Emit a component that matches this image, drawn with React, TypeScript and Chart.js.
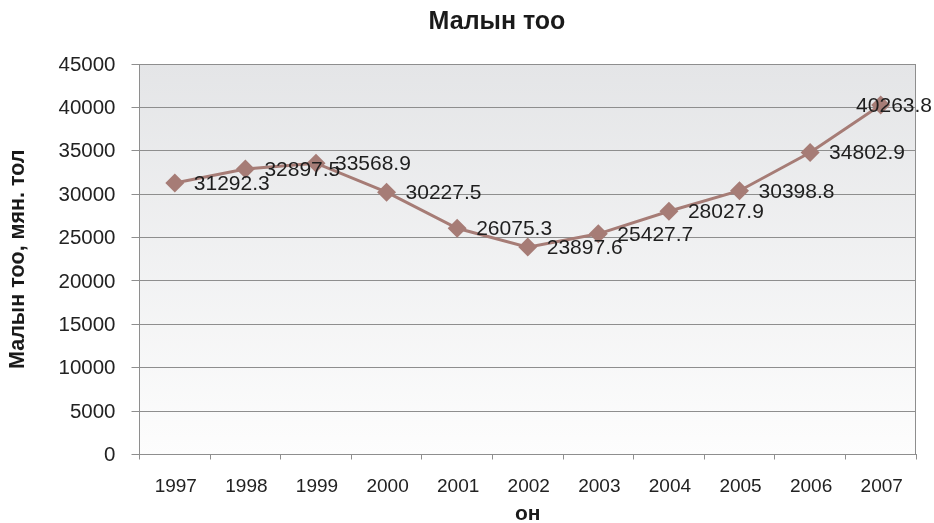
import { useEffect, useRef } from "react";
import { Chart, registerables } from "chart.js";

Chart.register(...registerables);

const chartTitle = "Малын тоо";
const xAxisTitle = "он";
const yAxisTitle = "Малын тоо, мян. тол";
const years = ["1997", "1998", "1999", "2000", "2001", "2002", "2003", "2004", "2005", "2006", "2007"];
const livestock = [31292.3, 32897.5, 33568.9, 30227.5, 26075.3, 23897.6, 25427.7, 28027.9, 30398.8, 34802.9, 40263.8];
const valueLabels = ["31292.3", "32897.5", "33568.9", "30227.5", "26075.3", "23897.6", "25427.7", "28027.9", "30398.8", "34802.9", "40263.8"];
const yMin = 0;
const yMax = 45000;
const yStep = 5000;

const FONT = "'Liberation Sans', Arial, Helvetica, sans-serif";
const LINE_COLOR = "#A67C76";
const GRID_COLOR = "#8E8E8E";

const plotBg = {
  id: "plotBg",
  beforeDraw(chart: any) {
    const { ctx, chartArea } = chart;
    const { left, top, right, bottom } = chartArea;
    ctx.save();
    const g = ctx.createLinearGradient(0, top, 0, bottom);
    g.addColorStop(0, "#E4E5E7");
    g.addColorStop(1, "#FDFDFD");
    ctx.fillStyle = g;
    ctx.fillRect(left, top, right - left, bottom - top);
    ctx.restore();
  },
  beforeDatasetsDraw(chart: any) {
    const { ctx, chartArea } = chart;
    const { top, right, bottom } = chartArea;
    ctx.save();
    ctx.strokeStyle = GRID_COLOR;
    ctx.lineWidth = 1;
    ctx.beginPath();
    ctx.moveTo(Math.round(right) - 0.5, top);
    ctx.lineTo(Math.round(right) - 0.5, bottom);
    ctx.stroke();
    ctx.restore();
  },
};

const pointLabels = {
  id: "pointLabels",
  afterDatasetsDraw(chart: any) {
    const { ctx } = chart;
    const meta = chart.getDatasetMeta(0);
    ctx.save();
    ctx.font = `21px ${FONT}`;
    ctx.fillStyle = "#1E1E1E";
    ctx.textAlign = "left";
    ctx.textBaseline = "middle";
    meta.data.forEach((pt: any, i: number) => {
      const text = valueLabels[i];
      const w = ctx.measureText(text).width;
      let x = pt.x + 19;
      if (x + w > chart.width - 2) x = chart.width - 2 - w;
      ctx.fillText(text, x, pt.y + 1);
    });
    ctx.restore();
  },
};

const titlePlugin = {
  id: "customTitle",
  afterDraw(chart: any) {
    const { ctx } = chart;
    ctx.save();
    ctx.font = `bold 25px ${FONT}`;
    ctx.fillStyle = "#1A1A1A";
    ctx.textAlign = "center";
    ctx.textBaseline = "middle";
    ctx.fillText(chartTitle, 497, 22);
    ctx.restore();
  },
};

export default function App() {
  const ref = useRef<HTMLCanvasElement | null>(null);

  useEffect(() => {
    document.body.style.margin = "0";
    if (!ref.current) return;
    const chart = new Chart(ref.current, {
      type: "line",
      data: {
        labels: years,
        datasets: [
          {
            data: livestock,
            borderColor: LINE_COLOR,
            backgroundColor: LINE_COLOR,
            borderWidth: 3,
            pointStyle: "rectRot",
            pointRadius: 9.5,
            pointBorderWidth: 0,
            pointBackgroundColor: LINE_COLOR,
            pointBorderColor: LINE_COLOR,
            tension: 0,
          },
        ],
      },
      options: {
        responsive: false,
        animation: false,
        events: [],
        layout: { padding: { left: 0, right: 18, top: 64, bottom: 0 } },
        plugins: {
          legend: { display: false },
          tooltip: { enabled: false },
          title: { display: false },
        },
        scales: {
          x: {
            type: "category",
            offset: true,
            grid: {
              offset: true,
              drawOnChartArea: false,
              drawTicks: true,
              tickLength: 5,
              color: GRID_COLOR,
            },
            border: { color: GRID_COLOR, width: 1 },
            ticks: {
              color: "#222",
              font: { family: FONT, size: 19 },
              padding: 16,
              labelOffset: 1,
              maxRotation: 0,
              autoSkip: false,
            },
            title: {
              display: true,
              text: xAxisTitle,
              color: "#1A1A1A",
              font: { family: FONT, size: 21, weight: "bold" },
              padding: { top: 0, bottom: -3.5 },
            },
            afterFit(scale: any) {
              scale.height = 68.5;
              scale.paddingLeft = 0;
              scale.paddingRight = 0;
            },
          },
          y: {
            min: yMin,
            max: yMax,
            ticks: {
              stepSize: yStep,
              color: "#222",
              font: { family: FONT, size: 20.5 },
              padding: 16,
              labelOffset: 1,
              callback: (v: any) => String(v),
            },
            grid: {
              color: GRID_COLOR,
              tickLength: 8,
              lineWidth: 1,
            },
            border: { color: GRID_COLOR, width: 1 },
            title: {
              display: true,
              text: yAxisTitle,
              color: "#1A1A1A",
              font: { family: FONT, size: 21.5, weight: "bold" },
              padding: { top: 5, bottom: 0 },
            },
            afterFit(scale: any) {
              scale.width = 139.5;
              scale.paddingTop = 0;
              scale.paddingBottom = 0;
            },
          },
        },
      },
      plugins: [plotBg, pointLabels, titlePlugin],
    });
    return () => chart.destroy();
  }, []);

  return (
    <canvas
      ref={ref}
      width={934}
      height={523}
      style={{ display: "block", width: 934, height: 523, background: "#fff" }}
    />
  );
}
